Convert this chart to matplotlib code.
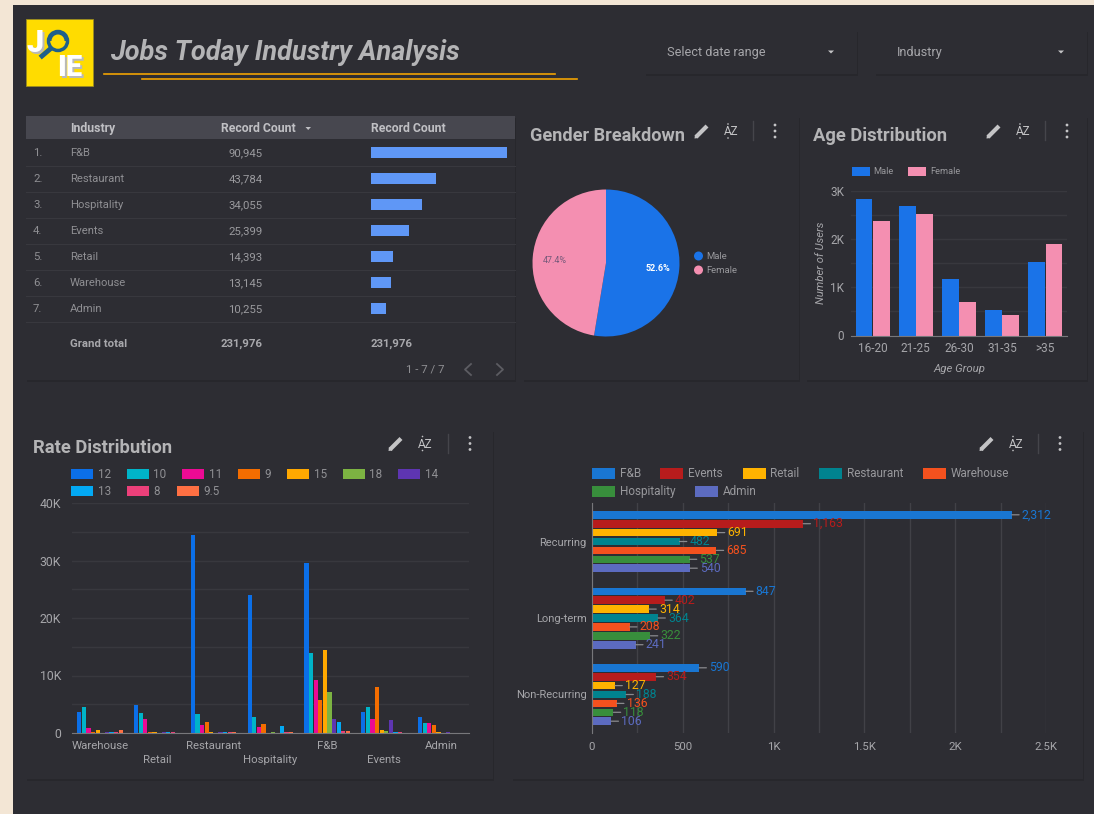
import matplotlib
matplotlib.use("Agg")
import matplotlib.pyplot as plt
from matplotlib.patches import Rectangle, Polygon, Circle, Wedge
import numpy as np

W, H = 1094, 814
BG = '#2d2d33'
BEIGE = '#f3e6d5'
TXT = '#a6a6aa'
TITLE = '#b4b4b6'
GRID = '#38383e'
AXIS = '#77777b'

plt.rcParams['font.family'] = ['Roboto', 'DejaVu Sans']

# table
industries = ['F&B', 'Restaurant', 'Hospitality', 'Events', 'Retail', 'Warehouse', 'Admin']
records = [90945, 43784, 34055, 25399, 14393, 13145, 10255]
grand_total = 231976

# gender pie
gender = ['Male', 'Female']
gender_share = [52.6, 47.4]

# age bars
age_groups = ['16-20', '21-25', '26-30', '31-35', '>35']
age_male = [2830, 2680, 1170, 530, 1530]
age_female = [2360, 2510, 700, 420, 1890]

# rate distribution
rate_industries = ['Warehouse', 'Retail', 'Restaurant', 'Hospitality', 'F&B', 'Events', 'Admin']
rate_names = ['12', '10', '11', '9', '15', '18', '14', '13', '8', '9.5']
rate_colors = ['#0b6fe8', '#00b4c8', '#ec0a94', '#f46d00', '#ffa800', '#7cb342', '#5e35b1', '#03a9f4', '#ec407a', '#ff7043']
rate_values = [
    [3700, 4900, 34500, 24000, 29500, 3700, 2700],
    [4600, 3500, 3300, 2700, 14000, 4600, 1700],
    [950, 2400, 1400, 1100, 9200, 2500, 1700],
    [250, 200, 1900, 1500, 5700, 8000, 1400],
    [550, 100, 100, 50, 14500, 600, 100],
    [50, 50, 50, 100, 7100, 300, 50],
    [100, 200, 100, 20, 2400, 2200, 100],
    [100, 100, 100, 1200, 2000, 100, 50],
    [150, 250, 150, 100, 400, 200, 50],
    [600, 50, 100, 100, 300, 50, 50],
]

# job type bars
job_types = ['Recurring', 'Long-term', 'Non-Recurring']
job_names = ['F&B', 'Events', 'Retail', 'Restaurant', 'Warehouse', 'Hospitality', 'Admin']
job_colors = ['#1976d2', '#b71c1c', '#ffb300', '#00838f', '#f4511e', '#388e3c', '#5c6bc0']
job_values = [
    [2312, 847, 590],
    [1163, 402, 354],
    [691, 314, 127],
    [482, 364, 188],
    [685, 208, 136],
    [537, 322, 118],
    [540, 241, 106],
]


def px_axes(x0, y0, x1, y1, **kw):
    return fig.add_axes([x0 / W, 1 - y1 / H, (x1 - x0) / W, (y1 - y0) / H], **kw)


def label(x, y, s, size=8.2, color=TXT, ha='left', va='center', **kw):
    return pg.text(x, y + 0.8, s, fontsize=size, color=color, ha=ha, va=va, **kw)


def panel(x0, y0, x1, y1):
    pg.add_patch(Rectangle((x0 + 1, y0 + 2), x1 - x0, y1 - y0, fc='#27272c', ec='none', zorder=0.5))
    pg.add_patch(Rectangle((x0, y0), x1 - x0, y1 - y0, fc=BG, ec='none', zorder=0.6))


def icons(x_pen, x_az, x_bar, x_dots, y):
    c = '#c4c4c6'
    pg.plot([x_pen - 6, x_pen + 5], [y + 6, y - 5], color=c, lw=3, solid_capstyle='butt')
    pg.add_patch(Polygon([[x_pen - 7.5, y + 7.5], [x_pen - 7, y + 3.5], [x_pen - 3.5, y + 7]], fc=c, ec='none'))
    label(x_az, y, 'AZ', size=8.5, color=c, ha='center')
    pg.add_patch(Circle((x_az - 3, y - 7), 0.8, fc=c, ec='none'))
    pg.add_patch(Circle((x_az - 3, y + 7), 0.8, fc=c, ec='none'))
    pg.plot([x_bar, x_bar], [y - 10, y + 9], color='#45454b', lw=1)
    for d in [-6, 0, 6]:
        pg.add_patch(Circle((x_dots, y + d), 1.4, fc=c, ec='none'))


def swatch(x, y, w, h, color):
    pg.add_patch(Rectangle((x, y - h / 2), w, h, fc=color, ec='none'))


fig = plt.figure(figsize=(W / 100, H / 100), dpi=100, facecolor=BEIGE)

# page layer in pixel coordinates
pg = px_axes(0, 0, W, H)
pg.set_xlim(0, W)
pg.set_ylim(H, 0)
pg.axis('off')
pg.add_patch(Rectangle((13, 5), W - 13, H - 5, fc=BG, ec='none', zorder=0.1))

for box in [(26, 116, 515, 380), (523, 116, 799, 380), (806, 116, 1087, 380),
            (26, 430, 493, 779), (512, 430, 1083, 779), (645, 30, 857, 74), (875, 30, 1087, 74)]:
    panel(*box)

# header
pg.add_patch(Rectangle((26, 19), 67, 67, fc='#ffdc00', ec='#9a8c20', lw=0.6))
navy = '#1f5f8b'
pg.plot([49, 42], [50, 56], color=navy, lw=3.5)
pg.add_patch(Circle((58, 41), 9.5, fc='#ffdc00', ec=navy, lw=2.5))
pg.add_patch(Wedge((58, 41), 10.5, 180, 360, width=4, fc=navy, ec='none'))
for dx, c in [(1.5, '#b9b9b9'), (0, 'white')]:
    pg.text(35.5 + dx, 43 + dx, 'J', fontsize=22, fontweight='black', color=c, ha='center', va='center')
    pg.text(70 + dx, 68 + dx, 'IE', fontsize=21, fontweight='black', color=c, ha='center', va='center')
pg.text(110, 53, 'Jobs Today Industry Analysis', fontsize=19.5, fontweight='bold', style='italic',
        color=TITLE, va='center')
pg.plot([104, 555], [74, 74], color='#f0a202', lw=1.2)
pg.plot([142, 577], [78.5, 78.5], color='#f0a202', lw=1.2)
label(667, 52, 'Select date range', size=9.2)
label(897, 52, 'Industry', size=9.2)
for cx in [831, 1061]:
    pg.add_patch(Polygon([[cx - 3, 50.5], [cx + 3, 50.5], [cx, 53.5]], fc='#c4c4c6', ec='none'))

# table
pg.add_patch(Rectangle((26, 116), 489, 23, fc='#47474f', ec='none'))
label(70, 128, 'Industry', size=8.8, color='#c0c0c4', fontweight='bold')
label(221, 128, 'Record Count', size=8.8, color='#c0c0c4', fontweight='bold')
pg.add_patch(Polygon([[305.5, 127], [311, 127], [308.2, 130]], fc='#c0c0c4', ec='none'))
label(371, 128, 'Record Count', size=8.8, color='#c0c0c4', fontweight='bold')
row_h = 26
for i, (name, val) in enumerate(zip(industries, records)):
    y = 152.5 + i * row_h
    label(33, y, f'{i + 1}.', color='#8f8f93')
    label(70, y, name, color='#8f8f93', size=8.1)
    label(262.5, y, f'{val:,}', color='#9a9a9e', ha='right')
    pg.plot([26, 515], [y + 13, y + 13], color='#38383e', lw=0.8)
label(70, 343, 'Grand total', color='#a8a8ac', fontweight='bold')
label(221, 343, f'{grand_total:,}', color='#a8a8ac', fontweight='bold')
label(371, 343, f'{grand_total:,}', color='#a8a8ac', fontweight='bold')
label(406, 368.5, '1 - 7 / 7', color='#8f8f93')
pg.plot([471, 465, 471], [364, 369.5, 375], color='#5c5c62', lw=1.3)
pg.plot([497, 503, 497], [364, 369.5, 375], color='#5c5c62', lw=1.3)

tb = px_axes(371, 139.5, 507, 321.5)
tb.barh(range(7), records, height=11 / 26, color='#5f97f6')
tb.set_xlim(0, max(records))
tb.set_ylim(6.5, -0.5)
tb.axis('off')

# titles and icons
label(530, 135, 'Gender Breakdown', size=13.05, color=TITLE, fontweight='bold')
icons(702, 731, 753, 775, 131)
label(813, 135, 'Age Distribution', size=13.2, color=TITLE, fontweight='bold')
icons(994, 1023, 1045, 1067, 131)
label(33, 447, 'Rate Distribution', size=13.2, color=TITLE, fontweight='bold')
icons(396, 425.5, 448, 470, 443.5)
icons(987, 1016, 1038, 1060, 443.5)

# pie
pie_ax = px_axes(532.5, 189.5, 679.5, 336.5)
wedges, _, autos = pie_ax.pie(gender_share, colors=['#1a73e8', '#f48fb1'], startangle=90, counterclock=False,
                              radius=1, autopct='%.1f%%', center=(0, 0))
pie_ax.set_xlim(-1, 1)
pie_ax.set_ylim(-1, 1)
for t, c, pos in zip(autos, ['white', '#75597a'], [(0.70, -0.07), (-0.70, 0.04)]):
    t.set_color(c)
    t.set_fontsize(6.5)
    t.set_position(pos)
autos[0].set_fontweight('bold')
for y, name, c in zip([256, 270], gender, ['#1a73e8', '#f48fb1']):
    pg.add_patch(Circle((698.5, y), 4.5, fc=c, ec='none'))
    label(706, y, name, size=6.8, color='#98989c')

# age chart
age_ax = px_axes(851, 190.5, 1067, 335.5)
age_ax.set_facecolor('none')
xs = np.arange(len(age_groups))
age_ax.bar(xs - 0.2, age_male, width=0.39, color='#1a73e8', zorder=3)
age_ax.bar(xs + 0.2, age_female, width=0.39, color='#f48fb1', zorder=3)
age_ax.set_xlim(-0.5, 4.5)
age_ax.set_ylim(0, 3000)
age_ax.set_yticks([0, 1000, 2000, 3000], ['0', '1K', '2K', '3K'])
age_ax.set_xticks(xs, age_groups)
age_ax.set_yticks([500, 1500, 2500], minor=True)
age_ax.set_xlabel('Age Group', fontsize=8.2, style='italic', color=TXT, labelpad=6)
age_ax.set_ylabel('Number of Users', fontsize=8.1, style='italic', color=TXT, labelpad=3)
swatch(852, 171, 18, 9, '#1a73e8')
label(873, 171, 'Male', size=6.7, color='#98989c')
swatch(908, 171, 18, 9, '#f48fb1')
label(930, 171, 'Female', size=6.7, color='#98989c')

# rate chart
rate_ax = px_axes(71.6, 503, 469.2, 733)
rate_ax.set_facecolor('none')
xs = np.arange(len(rate_industries))
bw = 4.6 / 56.8
for i, (vals, c) in enumerate(zip(rate_values, rate_colors)):
    rate_ax.bar(xs + (i - 4.5) * bw, vals, width=bw * 0.92, color=c, zorder=3)
rate_ax.set_xlim(-0.5, 6.5)
rate_ax.set_ylim(0, 40000)
rate_ax.set_yticks(range(0, 40001, 10000), ['0', '10K', '20K', '30K', '40K'])
rate_ax.set_yticks(range(5000, 40000, 10000), minor=True)
rate_ax.set_xticks(xs, [n if i % 2 == 0 else '\n' + n for i, n in enumerate(rate_industries)])
for t in rate_ax.get_xticklabels():
    t.set_linespacing(1.45)

legend_x = [71, 126.5, 182, 237.5, 287, 342.5, 398, 71, 126.5, 176.5]
for i, (name, c, lx) in enumerate(zip(rate_names, rate_colors, legend_x)):
    y = 473.7 if i < 7 else 491
    swatch(lx, y, 22, 10, c)
    label(lx + 27, y, name, size=8.4, color='#909094')

# job type chart
job_ax = px_axes(592, 503.25, 1046, 732.75)
job_ax.set_facecolor('none')
ys = np.arange(len(job_types))
pitch = 8.9 / 76.5
for i, (vals, c) in enumerate(zip(job_values, job_colors)):
    pos = ys + (i - 3) * pitch
    job_ax.barh(pos, vals, height=7.6 / 76.5, color=c, zorder=3)
    for p, v in zip(pos, vals):
        job_ax.annotate(f'{v:,}', xy=(v, p), xytext=(10 * 0.72, 0), textcoords='offset points',
                        fontsize=8.8, color=c, va='center', ha='left', zorder=4,
                        arrowprops=dict(arrowstyle='-', color='#8a8a8e', lw=0.9, shrinkA=0, shrinkB=0))
job_ax.set_xlim(0, 2500)
job_ax.set_ylim(2.5, -0.5)
job_ax.set_xticks(range(0, 2501, 500), ['0', '500', '1K', '1.5K', '2K', '2.5K'])
job_ax.set_xticks(range(250, 2500, 500), minor=True)
job_ax.set_yticks(ys, job_types)

for lx, tx, y, name, c in zip([592, 660, 743, 819, 923, 592, 695], [620, 688, 770, 847, 951, 620, 723],
                              [473, 473, 473, 473, 473, 491, 491], job_names, job_colors):
    swatch(lx, y, 23, 11, c)
    label(tx, y, name, size=8.5, color='#98989c')

# shared axis look
for ax in [age_ax, rate_ax]:
    for s in ['top', 'left', 'right']:
        ax.spines[s].set_visible(False)
    ax.spines['bottom'].set_color(AXIS)
    ax.spines['bottom'].set_zorder(5)
    ax.grid(axis='y', which='both', color=GRID, lw=1, zorder=0)
    ax.tick_params(axis='both', which='both', length=0, colors=TXT, labelsize=8.5, pad=5)
    ax.set_axisbelow(True)
rate_ax.tick_params(axis='x', pad=6, labelsize=8.2)
rate_ax.tick_params(axis='y', pad=7.5, labelsize=8.8)
age_ax.tick_params(axis='y', pad=5)
age_ax.tick_params(axis='x', pad=5)

for s in ['top', 'bottom', 'right']:
    job_ax.spines[s].set_visible(False)
job_ax.spines['left'].set_color(AXIS)
job_ax.spines['left'].set_zorder(5)
job_ax.grid(axis='x', which='both', color='#414147', lw=1, zorder=0)
job_ax.set_axisbelow(True)
job_ax.tick_params(axis='both', which='both', length=0, colors=TXT, labelsize=8.2)
job_ax.tick_params(axis='x', pad=7)
job_ax.tick_params(axis='y', pad=4, labelsize=8)

fig.savefig('out.png', dpi=100, facecolor=BEIGE)
